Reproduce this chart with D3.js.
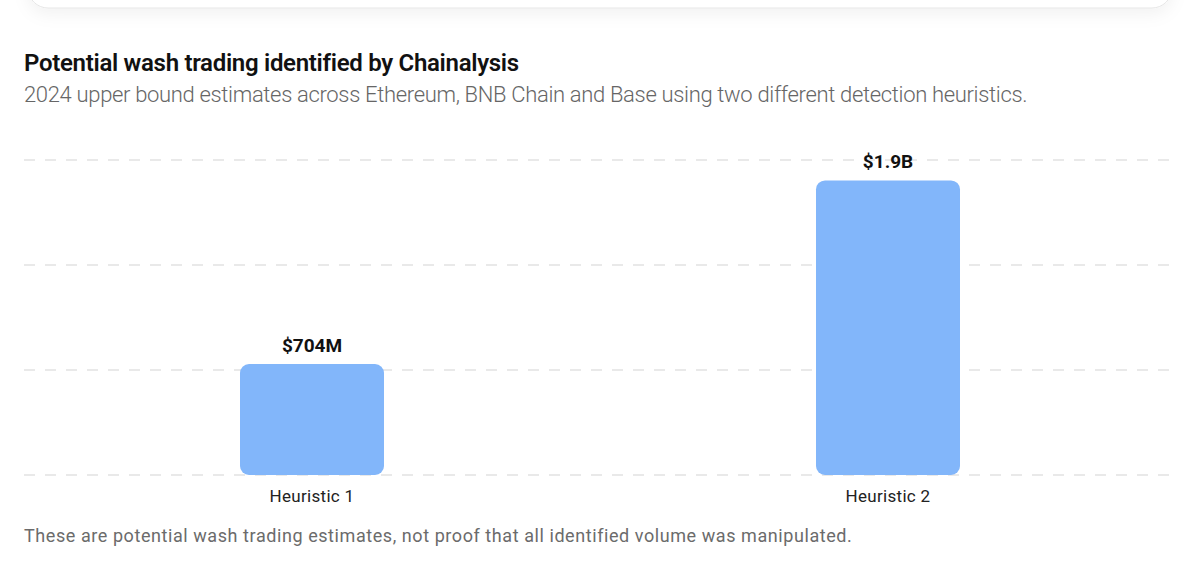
<!DOCTYPE html>
<html>
<head>
<meta charset="utf-8">
<script src="https://cdn.jsdelivr.net/npm/d3@7"></script>
<style>
  html, body { margin: 0; padding: 0; background: #fff; }
  body { font-family: Roboto, "Noto Sans", sans-serif; }
  .chart { width: 1188px; height: 577px; }
</style>
</head>
<body>
<div class="chart"></div>
<script>
// Data
const categories = ['Heuristic 1', 'Heuristic 2'];
const values = [704, 1870]; // millions USD
const valueLabels = ['$704M', '$1.9B'];
const gridValues = [0, 666.7, 1333.3, 2000];

const TITLE = 'Potential wash trading identified by Chainalysis';
const SUBTITLE = '2024 upper bound estimates across Ethereum, BNB Chain and Base using two different detection heuristics.';
const NOTE = 'These are potential wash trading estimates, not proof that all identified volume was manipulated.';

//Prep work
const W = 1188;
const H = 577;

const svg = d3.select('.chart')
	.append('svg')
		.attr('width', W)
		.attr('height', H);

// faint card edge at the top of the page
const defs = svg.append('defs');
const shadow = defs.append('filter').attr('id','shadow')
	.attr('x','-10%').attr('y','-50%').attr('width','120%').attr('height','300%');
shadow.append('feDropShadow')
	.attr('dx', 0).attr('dy', 6).attr('stdDeviation', 8)
	.attr('flood-color', '#000').attr('flood-opacity', 0.05);

svg.append('rect')
	.attr('x', 28).attr('y', -60)
	.attr('width', 1144).attr('height', 68)
	.attr('rx', 20)
	.style('fill', '#fff')
	.style('stroke', '#e6e6e6')
	.style('stroke-width', 1)
	.attr('filter', 'url(#shadow)');

// title block
svg.append('text')
	.attr('x', 24).attr('y', 71)
	.style('font-size', '24px')
	.style('font-weight', 600)
	.style('letter-spacing', '-0.3px')
	.style('fill', '#111')
	.text(TITLE);

svg.append('text')
	.attr('x', 24).attr('y', 102)
	.style('font-size', '22px')
	.style('font-weight', 300)
	.style('letter-spacing', '-0.33px')
	.style('fill', '#666')
	.text(SUBTITLE);

svg.append('text')
	.attr('x', 24).attr('y', 542)
	.style('font-size', '18px')
	.style('letter-spacing', '0.57px')
	.style('fill', '#6b6b6b')
	.text(NOTE);

const plot = svg.append('g')
	.attr('class','plot');

const y0 = 475, y1 = 160;

const scaleX = d3.scaleBand()
	.domain(categories)
	.range([24, 1176])
	.padding(0);

const scaleY = d3.scaleLinear()
	.domain([0, 2000])
	.range([y0, y1]);

// gridlines
plot.selectAll('.grid')
	.data(gridValues)
	.enter()
	.append('line')
	.attr('class','grid')
	.attr('x1', 24)
	.attr('x2', 1172)
	.attr('y1', d => scaleY(d))
	.attr('y2', d => scaleY(d))
	.style('stroke', '#e2e2e2')
	.style('stroke-width', 1.5)
	.style('stroke-dasharray', '11 10');

const barW = scaleX.bandwidth() * 0.25;

const bars = plot.selectAll('.bar')
	.data(categories.map((c, i) => ({cat:c, value:values[i], label:valueLabels[i]})))
	.enter()
	.append('g')
	.attr('class','bar');

bars.append('rect')
	.attr('x', d => scaleX(d.cat) + scaleX.bandwidth()/2 - barW/2)
	.attr('y', d => scaleY(d.value))
	.attr('width', barW)
	.attr('height', d => scaleY(0) - scaleY(d.value))
	.attr('rx', 9)
	.style('fill', '#82b6fa');

bars.append('text')
	.attr('x', d => scaleX(d.cat) + scaleX.bandwidth()/2)
	.attr('y', d => scaleY(d.value) - 12)
	.attr('text-anchor', 'middle')
	.style('font-size', '19px')
	.style('font-weight', 700)
	.style('fill', '#111')
	.text(d => d.label);

// category axis labels
plot.selectAll('.cat-label')
	.data(categories)
	.enter()
	.append('text')
	.attr('class','cat-label')
	.attr('x', d => scaleX(d) + scaleX.bandwidth()/2)
	.attr('y', 502)
	.attr('text-anchor', 'middle')
	.style('font-size', '17px')
	.style('letter-spacing', '0.3px')
	.style('fill', '#222')
	.text(d => d);
</script>
</body>
</html>
